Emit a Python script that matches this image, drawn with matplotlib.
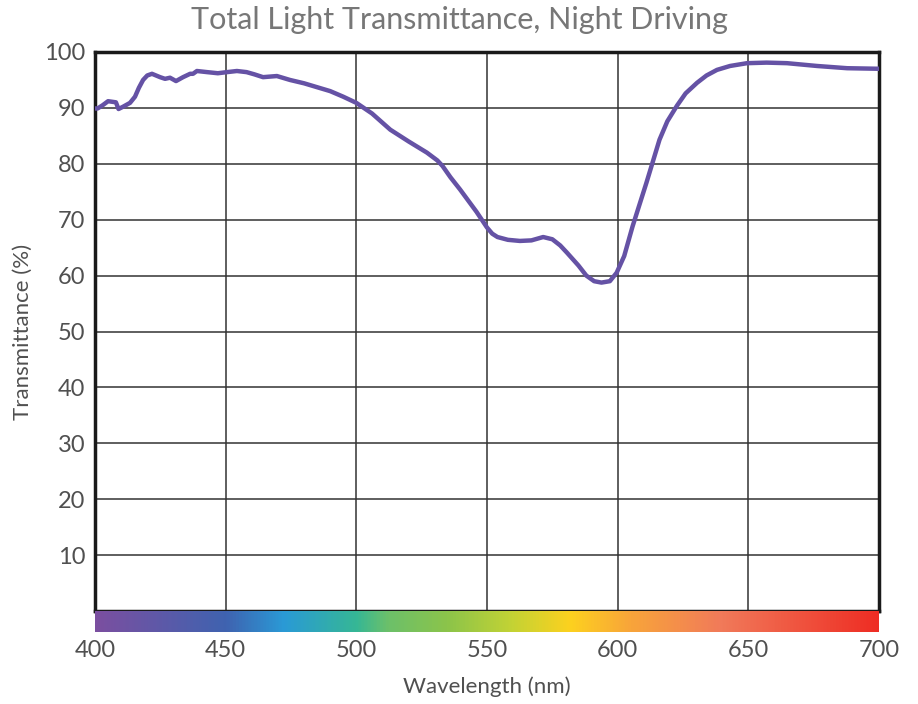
import numpy as np
import matplotlib
matplotlib.use("Agg")
import matplotlib.pyplot as plt
from matplotlib.colors import LinearSegmentedColormap

# transmittance curve
wavelength = [400, 401, 403, 405, 408, 409, 410.7, 413.4, 415.3, 416.8, 418.4, 420,
              421.8, 424.9, 426.8, 428.7, 431, 433.7, 436.4, 437.5, 439, 442.9, 447,
              450.5, 454.3, 458, 461, 464.3, 469.6, 474.6, 480, 485, 490, 495, 500,
              506, 513, 520, 527, 531, 533, 536, 539.7, 546, 550, 552, 554, 558,
              562.6, 567, 571.5, 575, 578, 580.6, 585, 588, 591, 593.8, 597, 599.6,
              602.5, 605.7, 611, 616, 619, 622.7, 626, 630.4, 634, 638, 643, 649.5,
              657, 664.8, 676.3, 687.8, 700]
transmittance = [89.9, 89.9, 90.5, 91.2, 91.0, 89.8, 90.2, 90.9, 92.0, 93.6, 95.0, 95.8,
                 96.1, 95.5, 95.2, 95.4, 94.8, 95.5, 96.1, 96.1, 96.6, 96.4, 96.2,
                 96.4, 96.6, 96.4, 96.0, 95.5, 95.7, 95.0, 94.4, 93.7, 93.0, 92.0, 90.9,
                 89.0, 86.1, 84.0, 82.0, 80.6, 79.6, 77.6, 75.4, 71.4, 68.6, 67.5, 66.9, 66.4,
                 66.2, 66.3, 66.9, 66.5, 65.4, 64.1, 61.8, 60.0, 59.0, 58.75, 59.0, 60.5,
                 63.5, 68.8, 76.6, 84.3, 87.6, 90.4, 92.6, 94.5, 95.8, 96.8, 97.5, 98.0,
                 98.1, 98.0, 97.5, 97.1, 97.0]

spectrum_pos = [400, 450, 472, 500, 512, 535, 560, 582, 605, 640, 700]
spectrum_col = ["#7b4fa0", "#3f63b0", "#2a9ad6", "#36b795", "#6cc06a", "#8cc44a",
                "#c4d334", "#fdd11f", "#f8a53a", "#f17a5a", "#ee2d24"]

x_ticks = [400, 450, 500, 550, 600, 650, 700]
y_ticks = [10, 20, 30, 40, 50, 60, 70, 80, 90, 100]

plt.rcParams["font.family"] = ["Lato", "DejaVu Sans"]
text_col = "#505050"

fig = plt.figure(figsize=(9.18, 7.04), dpi=100)
ax = fig.add_axes([95 / 918, 1 - 611 / 704, 784 / 918, 559 / 704])
ax.plot(wavelength, transmittance, color="#6552a5", lw=3.2, solid_joinstyle="round",
        solid_capstyle="round", zorder=3)
ax.set_xlim(400, 700)
ax.set_ylim(0, 100)
ax.set_xticks(x_ticks)
ax.set_yticks(y_ticks)
ax.grid(True, color="#333333", lw=1.1)
ax.tick_params(length=0, labelsize=17, labelcolor=text_col, labelbottom=False, pad=7)
for s in ax.spines.values():
    s.set_linewidth(2.5)
    s.set_color("#1a1a1a")
ax.set_ylabel("Transmittance (%)", fontsize=16, color=text_col, labelpad=8)

# rainbow strip under the plot
sax = fig.add_axes([95 / 918, 1 - 632 / 704, 784 / 918, 21 / 704])
norm_pos = [(p - 400) / 300 for p in spectrum_pos]
cmap = LinearSegmentedColormap.from_list("spec", list(zip(norm_pos, spectrum_col)))
sax.imshow(np.linspace(0, 1, 512)[None, :], aspect="auto", cmap=cmap,
           extent=[400, 700, 0, 1])
sax.set_xlim(400, 700)
sax.set_yticks([])
sax.set_xticks(x_ticks)
sax.tick_params(length=0, labelsize=17, labelcolor=text_col, pad=6)
for s in sax.spines.values():
    s.set_visible(False)
sax.set_xlabel("Wavelength (nm)", fontsize=16, color=text_col, labelpad=11)

fig.text(0.5, 1 - 20 / 704, "Total Light Transmittance, Night Driving", ha="center",
         va="center", fontsize=22, color="#777777")

fig.savefig("out.png", dpi=100)
